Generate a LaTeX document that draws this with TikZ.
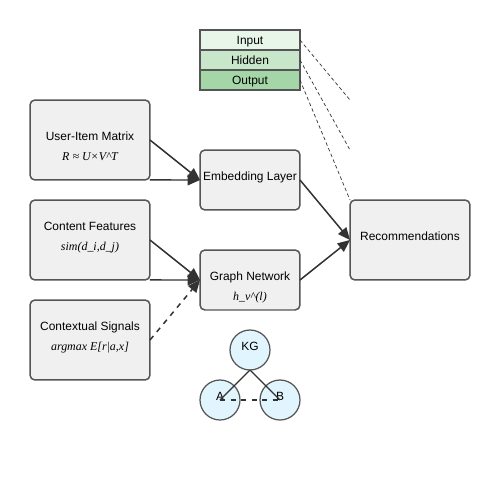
\documentclass[tikz,border=0pt]{standalone}
\usepackage{fontspec}
\setmainfont{Liberation Sans}
\newfontfamily\formulafont{Liberation Serif}
\usetikzlibrary{arrows.meta}

\definecolor{boxfill}{HTML}{F0F0F0}
\definecolor{boxline}{HTML}{555555}
\definecolor{arrowcol}{HTML}{333333}
\definecolor{inputfill}{HTML}{E8F5E9}
\definecolor{hiddenfill}{HTML}{C8E6C9}
\definecolor{outputfill}{HTML}{A5D6A7}
\definecolor{kgfill}{HTML}{E1F5FE}

\tikzset{
  block/.style={draw=boxline, fill=boxfill, line width=0.85pt, rounded corners=2.8pt,
    inner sep=0pt, outer sep=0pt},
  legendbox/.style={draw=boxline, line width=0.6pt, minimum width=2cm, minimum height=0.4cm,
    inner sep=0pt, outer sep=0pt, text height=4.9pt, text depth=0pt,
    font=\fontsize{6.8}{8}\selectfont},
  caption/.style={font=\fontsize{6.8}{8}\selectfont, inner sep=0pt,
    text height=4.9pt, text depth=0pt},
  formula/.style={font=\formulafont\itshape\fontsize{6.8}{8}\selectfont, inner sep=0pt,
    text height=4.9pt, text depth=0pt},
  flow/.style={-{Triangle[length=7pt, width=6pt]}, arrowcol, line width=0.85pt},
  guide/.style={dash pattern=on 2pt off 1.5pt, arrowcol, line width=0.4pt},
  entity/.style={circle, draw=boxline, fill=kgfill, line width=0.7pt, minimum size=0.8cm,
    inner sep=0pt, outer sep=0pt}
}

\begin{document}
\begin{tikzpicture}[x=0.02cm, y=-0.02cm]
    \useasboundingbox (0,0) rectangle (500,500);

    % legend
    \node [legendbox, fill=inputfill] (input) at (250,40) {Input};
    \node [legendbox, fill=hiddenfill] (hidden) at (250,60) {Hidden};
    \node [legendbox, fill=outputfill] (output) at (250,80) {Output};

    % sources
    \node [block, minimum width=2.4cm, minimum height=1.6cm] (matrix) at (90,140) {};
    \node [caption] (matrixtxt) at (90,136) {User-Item Matrix};
    \node [formula] (matrixeq) at (90,156) {R ≈ U×V\textasciicircum T};
    \node [block, minimum width=2.4cm, minimum height=1.6cm] (content) at (90,240) {};
    \node [caption] (contenttxt) at (90,226) {Content Features};
    \node [formula] (contenteq) at (90,246) {sim(d\_i,d\_j)};
    \node [block, minimum width=2.4cm, minimum height=1.6cm] (context) at (90,340) {};
    \node [caption] (contexttxt) at (90,326) {Contextual Signals};
    \node [formula] (contexteq) at (90,346) {argmax E[r|a,x]};

    % models
    \node [block, minimum width=2cm, minimum height=1.2cm] (embed) at (250,180) {};
    \node [caption] (embedtxt) at (250,176) {Embedding Layer};
    \node [block, minimum width=2cm, minimum height=1.2cm] (graph) at (250,280) {};
    \node [caption] (graphtxt) at (250,276) {Graph Network};
    \node [formula] (grapheq) at (250,296) {h\_v\textasciicircum(l)};
    \node [block, minimum width=2.4cm, minimum height=1.6cm] (rec) at (410,240) {};
    \node [caption] (rectxt) at (410,236) {Recommendations};

    % legend guides
    \coordinate (g1) at (350,100);
    \coordinate (g2) at (350,150);
    \draw [guide] (input.east) -- (g1);
    \draw [guide] (hidden.east) -- (g2);
    \draw [guide] (output.east) -- (rec.north west);

    % flows
    \draw [flow] (matrix.east) -- (embed.west);
    \draw [flow] (matrix.south east) -- (embed.west);
    \draw [flow] (content.east) -- (graph.west);
    \draw [flow] (content.south east) -- (graph.west);
    \draw [flow, dashed] (context.east) -- (graph.west);
    \draw [flow] (embed.east) -- (rec.west);
    \draw [flow] (graph.east) -- (rec.west);

    % knowledge graph
    \node [entity] (kg) at (250,350) {};
    \node [entity] (a) at (220,400) {};
    \node [entity] (b) at (280,400) {};
    \node [caption] (kgtxt) at (250,346) {KG};
    \node [caption] (atxt) at (220,396) {A};
    \node [caption] (btxt) at (280,396) {B};
    \draw [arrowcol, line width=0.7pt] (kg.south) -- (a.center);
    \draw [arrowcol, line width=0.7pt] (kg.south) -- (b.center);
    \draw [arrowcol, line width=0.7pt, dashed] (a.center) -- (b.center);
\end{tikzpicture}
\end{document}
